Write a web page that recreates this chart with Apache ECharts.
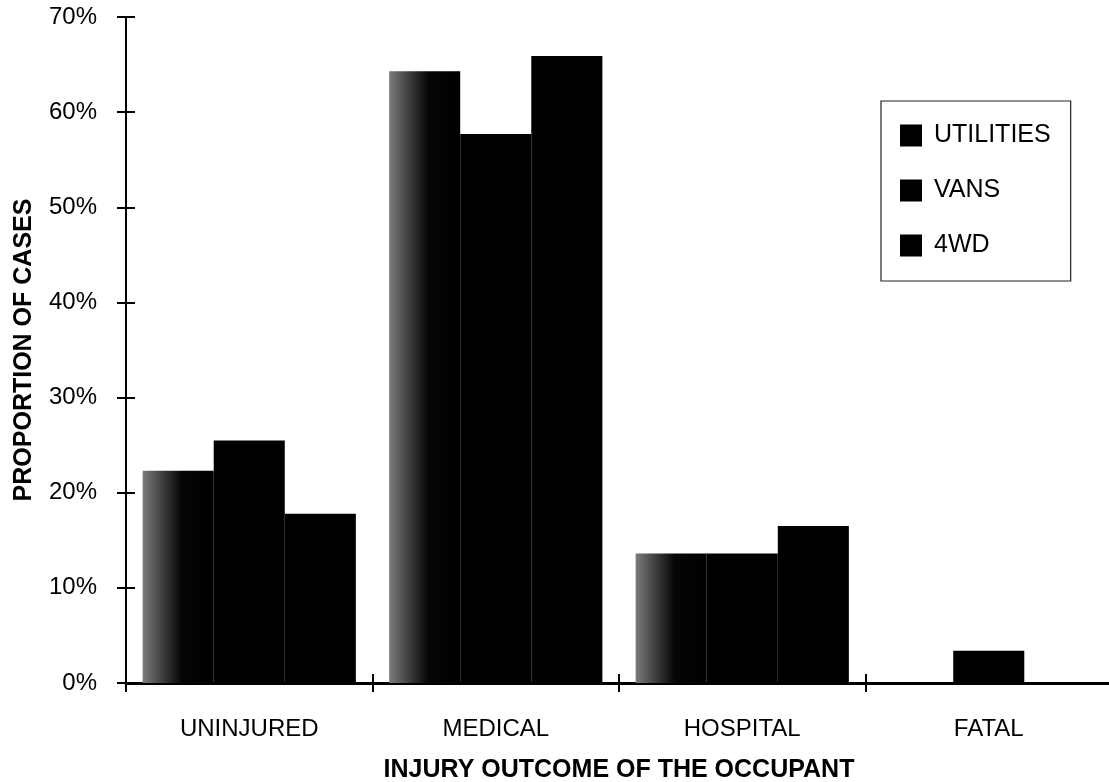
<!DOCTYPE html>
<html>
<head>
<meta charset="utf-8">
<title>Injury outcome of the occupant</title>
<script src="https://cdn.jsdelivr.net/npm/echarts@6/dist/echarts.min.js"></script>
<style>
  html, body { margin: 0; padding: 0; background: #ffffff; }
  #chart { width: 1109px; height: 782px; }
</style>
</head>
<body>
<div id="chart"></div>
<script>
// Injury outcome categories (x axis)
const categories = ['UNINJURED', 'MEDICAL', 'HOSPITAL', 'FATAL'];

// Proportion of cases (%) for each vehicle type
const utilities = [22.3, 64.3, 13.6, 0];
const vans      = [25.5, 57.7, 13.6, 3.4];
const fourWD    = [17.8, 65.9, 16.5, 0];

const seriesNames = ['UTILITIES', 'VANS', '4WD'];

// Y axis range and step (percent)
const yMin = 0;
const yMax = 70;
const yStep = 10;

const FONT = '"Liberation Sans", Arial, Helvetica, sans-serif';
const INK = '#000000';

const chart = echarts.init(document.getElementById('chart'), null, { renderer: 'canvas' });

// Utilities bars carry a grainy lighter band on their left side
const utilitiesFill = new echarts.graphic.LinearGradient(0, 0, 1, 0, [
  { offset: 0, color: '#7c7c7c' },
  { offset: 0.3, color: '#3a3a3a' },
  { offset: 0.55, color: '#050505' },
  { offset: 1, color: '#000000' }
]);

const values = [utilities, vans, fourWD];
const fills = [utilitiesFill, INK, INK];

const series = seriesNames.map((name, i) => ({
  name: name,
  type: 'bar',
  xAxisIndex: 0,
  yAxisIndex: 0,
  data: values[i],
  barGap: '0%',
  barCategoryGap: '13.5%',
  itemStyle: { color: fills[i] },
  emphasis: { disabled: true }
}));

const option = {
  animation: false,
  backgroundColor: '#ffffff',
  textStyle: { fontFamily: FONT, color: INK },
  grid: {
    left: 126, right: -3, top: 17, bottom: 99,
    containLabel: false,
    outerBoundsMode: 'none'
  },
  legend: {
    orient: 'vertical',
    left: 881,
    top: 101,
    data: seriesNames.map(n => ({ name: n, itemStyle: { color: INK } })),
    icon: 'rect',
    itemWidth: 22,
    itemHeight: 22,
    itemGap: 30,
    padding: [22, 20, 23, 19],
    borderColor: '#222',
    borderWidth: 1.2,
    backgroundColor: '#ffffff',
    selectedMode: false,
    textStyle: { fontFamily: FONT, fontSize: 25, color: INK, padding: [0, 0, 0, 7] }
  },
  xAxis: [
    {
      type: 'category',
      data: categories,
      position: 'bottom',
      boundaryGap: true,
      axisLine: { show: true, lineStyle: { color: INK, width: 3 } },
      axisTick: { show: true, inside: false, length: 9, lineStyle: { color: INK, width: 2 } },
      axisLabel: { fontFamily: FONT, fontSize: 24, color: INK, margin: 34 },
      name: 'INJURY OUTCOME OF THE OCCUPANT',
      nameLocation: 'middle',
      nameGap: 75,
      nameTextStyle: { fontFamily: FONT, fontSize: 25, fontWeight: 'bold', color: INK },
      splitLine: { show: false }
    },
    {
      // inner half of the crossing tick marks
      type: 'category',
      data: categories,
      position: 'bottom',
      boundaryGap: true,
      axisLine: { show: false },
      axisTick: { show: true, inside: true, length: 9, lineStyle: { color: INK, width: 2 } },
      axisLabel: { show: false },
      splitLine: { show: false }
    }
  ],
  yAxis: [
    {
      type: 'value',
      min: yMin,
      max: yMax,
      interval: yStep,
      position: 'left',
      axisLine: { show: true, lineStyle: { color: INK, width: 2 } },
      axisTick: { show: true, inside: false, length: 9, lineStyle: { color: INK, width: 2 } },
      axisLabel: {
        fontFamily: FONT, fontSize: 24, color: INK, margin: 29,
        formatter: v => v + '%'
      },
      splitLine: { show: false },
      name: 'PROPORTION OF CASES',
      nameLocation: 'middle',
      nameGap: 89,
      nameRotate: 90,
      nameTextStyle: { fontFamily: FONT, fontSize: 25, fontWeight: 'bold', color: INK }
    },
    {
      // inner half of the crossing tick marks
      type: 'value',
      min: yMin,
      max: yMax,
      interval: yStep,
      position: 'left',
      axisLine: { show: false },
      axisTick: { show: true, inside: true, length: 9, lineStyle: { color: INK, width: 2 } },
      axisLabel: { show: false },
      splitLine: { show: false }
    }
  ],
  series: series
};

chart.setOption(option);
</script>
</body>
</html>
